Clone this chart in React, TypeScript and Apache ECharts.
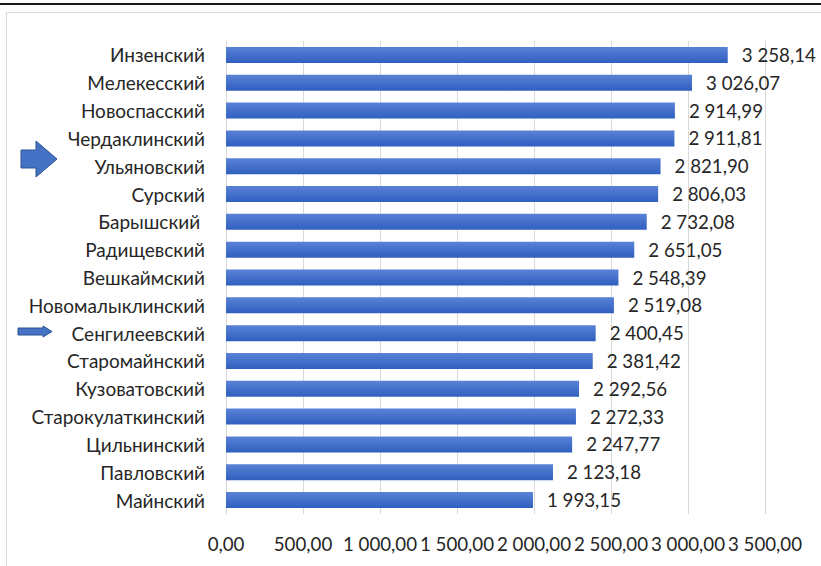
import React, { useEffect, useRef } from "react";
import * as echarts from "echarts";

const categories = [
  "Инзенский",
  "Мелекесский",
  "Новоспасский",
  "Чердаклинский",
  "Ульяновский",
  "Сурский",
  "Барышский ",
  "Радищевский",
  "Вешкаймский",
  "Новомалыклинский",
  "Сенгилеевский",
  "Старомайнский",
  "Кузоватовский",
  "Старокулаткинский",
  "Цильнинский",
  "Павловский",
  "Майнский",
];

const values = [
  3258.14, 3026.07, 2914.99, 2911.81, 2821.9, 2806.03, 2732.08, 2651.05, 2548.39,
  2519.08, 2400.45, 2381.42, 2292.56, 2272.33, 2247.77, 2123.18, 1993.15,
];

const tickLabels = [
  "0,00",
  "500,00",
  "1 000,00",
  "1 500,00",
  "2 000,00",
  "2 500,00",
  "3 000,00",
  "3 500,00",
];

const fmt = (v: number) => {
  const [i, d] = v.toFixed(2).split(".");
  return i.replace(/\B(?=(\d{3})+(?!\d))/g, " ") + "," + d;
};

const FONT = "Lato, 'Noto Sans', sans-serif";

export default function App() {
  const ref = useRef<HTMLDivElement>(null);
  useEffect(() => {
    if (!ref.current) return;
    const chart = echarts.init(ref.current, undefined, { renderer: "svg" });
    chart.setOption({
      animation: false,
      backgroundColor: "#ffffff",
      grid: { left: 226, right: 56, top: 41, bottom: 52, containLabel: false },
      xAxis: {
        type: "value",
        min: 0,
        max: 3500,
        interval: 500,
        axisLine: { show: false },
        axisTick: { show: false },
        splitLine: { lineStyle: { color: "#d9d9d9", width: 1 } },
        axisLabel: {
          margin: 20,
          fontSize: 18.7,
          fontFamily: FONT,
          color: "#262626",
          hideOverlap: false,
          formatter: (v: number) => tickLabels[Math.round(v / 500)] ?? fmt(v),
        },
      },
      yAxis: {
        type: "category",
        inverse: true,
        data: categories,
        axisLine: { show: true, lineStyle: { color: "#d9d9d9" } },
        axisTick: { show: false },
        axisLabel: {
          margin: 21,
          fontSize: 19,
          fontFamily: FONT,
          color: "#262626",
        },
      },
      series: [
        {
          type: "bar",
          data: values,
          barWidth: 16,
          itemStyle: {
            color: new echarts.graphic.LinearGradient(0, 0, 0, 1, [
              { offset: 0, color: "#5a82d6" },
              { offset: 1, color: "#2f5fbf" },
            ]),
          },
          label: {
            show: true,
            position: "right",
            distance: 14,
            fontSize: 18.7,
            fontFamily: FONT,
            color: "#262626",
            formatter: (p: any) => fmt(p.value),
          },
        },
      ],
      graphic: [
        {
          type: "rect",
          shape: { x: 6.5, y: 12.5, width: 840, height: 600 },
          style: { fill: "none", stroke: "#d9d9d9", lineWidth: 1 },
          silent: true,
        },
        {
          type: "line",
          shape: { x1: 0, y1: 4, x2: 821, y2: 4 },
          style: { stroke: "#1a1a1a", lineWidth: 2 },
          silent: true,
        },
        {
          type: "polygon",
          shape: {
            points: [
              [21, 150],
              [36, 150],
              [36, 141],
              [57, 159],
              [36, 177],
              [36, 168],
              [21, 168],
            ],
          },
          style: { fill: "#4472c4", stroke: "#2f528f", lineWidth: 1 },
          silent: true,
        },
        {
          type: "polygon",
          shape: {
            points: [
              [18, 328],
              [43, 328],
              [43, 326],
              [52, 331.5],
              [43, 337],
              [43, 335],
              [18, 335],
            ],
          },
          style: { fill: "#4472c4", stroke: "#2f528f", lineWidth: 1 },
          silent: true,
        },
      ],
    });
    return () => chart.dispose();
  }, []);
  return (
    <div
      ref={ref}
      style={{ position: "fixed", left: 0, top: 0, width: 821, height: 566 }}
    />
  );
}
